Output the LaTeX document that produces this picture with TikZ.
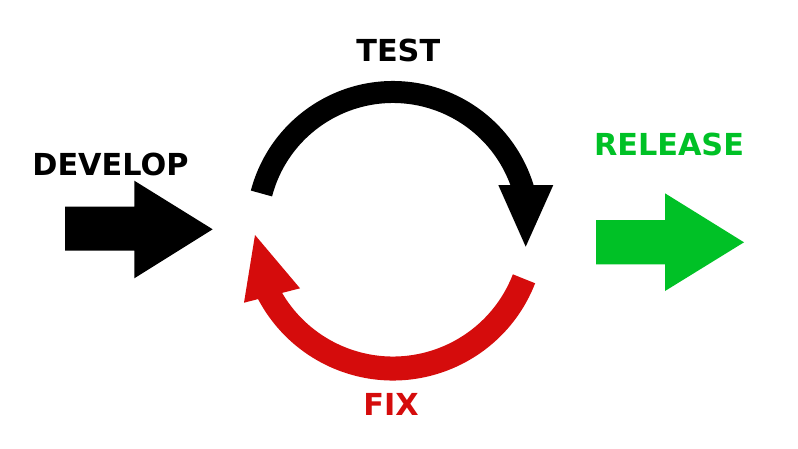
\documentclass[tikz,border=0pt]{standalone}
\usepackage{fontspec}
\setmainfont{DejaVu Sans}
\usetikzlibrary{calc}
\definecolor{relgreen}{RGB}{0,193,38}
\definecolor{fixred}{RGB}{213,12,12}
\begin{document}
\begin{tikzpicture}[x=1pt,y=-1pt,
  lbl/.style={anchor=base,inner sep=0pt,font=\fontsize{30.3}{31}\selectfont\bfseries},
  arcline/.style={line cap=butt}]
\useasboundingbox (0,0) rectangle (798,448);
\fill[white] (0,0) rectangle (798,448);
% labels
\node[lbl] (develop) at (110.5,175.5) {DEVELOP};
\node[lbl] (test) at (398.3,61.7) {TEST};
\node[lbl,text=relgreen] (release) at (669,155.9) {RELEASE};
\node[lbl,text=fixred] (fix) at (391,415.2) {FIX};
% develop arrow
\fill[black] (65,206.7) -- (134.3,206.7) -- (134.3,180.7) -- (212.7,229.3)
  -- (134.3,278.3) -- (134.3,250.7) -- (65,250.7) -- cycle;
% release arrow
\fill[relgreen] (596,220) -- (665,220) -- (665,193.3) -- (744,242.3)
  -- (665,291) -- (665,264.3) -- (596,264.3) -- cycle;
% cycle centre
\coordinate (c) at (393,228);
% black arc (test)
\draw[arcline,line width=22pt,black] ($(c)+(-165.3:136)$) arc[start angle=-165.3,end angle=-16,radius=136];
\fill[black] (498.3,185) -- (553.3,185) -- (525.7,246.7) -- cycle;
% red arc (fix)
\draw[arcline,line width=24pt,fixred] ($(c)+(21.2:140.5)$) arc[start angle=21.2,end angle=154,radius=140.5];
\fill[fixred] (244,302.7) -- (300,288.3) -- (255,235) -- cycle;
\end{tikzpicture}
\end{document}
